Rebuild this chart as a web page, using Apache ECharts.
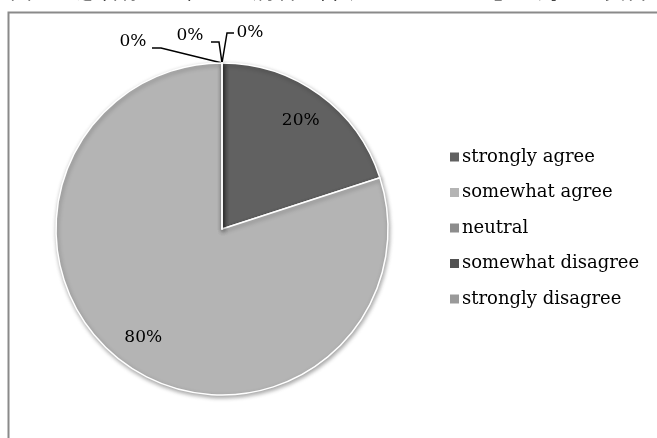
<!DOCTYPE html>
<html>
<head>
<meta charset="utf-8">
<style>
  html, body { margin: 0; padding: 0; background: #fff; }
  #chart { width: 657px; height: 438px; }
</style>
<script src="https://cdn.jsdelivr.net/npm/echarts@6/dist/echarts.min.js"></script>
</head>
<body>
<div id="chart"></div>
<script>
// Survey answers and their shares
const categories = ['strongly agree', 'somewhat agree', 'neutral', 'somewhat disagree', 'strongly disagree'];
const values = [20, 80, 0, 0, 0];
const sliceColors = ['#616161', '#b4b4b4', '#8d8d8d', '#525252', '#9a9a9a'];
const titleText = '図５　患者様に正直に「病名を告げることを望む」に対する賛否';

const serifFont = '"DejaVu Serif", "Liberation Serif", serif';
const pieCenter = [222, 229];
const pieRadius = 166;

// where each zero-share label sits relative to the top of the pie: [label dx, dy, elbow dx, dy, end dx, dy]
const zeroLabelOffsets = {
  2: [-89, -21, -61, -15, -70, -15],
  3: [-32, -27, -3, -21, -11, -21],
  4: [28, -30, 5, -30, 12, -30]
};

const chart = echarts.init(document.getElementById('chart'), null, { renderer: 'canvas' });

const mainData = categories.map((name, i) => {
  const item = { name: name, value: values[i], itemStyle: { color: sliceColors[i] } };
  if (values[i] !== 0) {
    item.label = { show: false };
    item.labelLine = { show: false };
  }
  return item;
});

const labelData = categories.map((name, i) => ({
  name: name,
  value: values[i],
  label: { show: values[i] !== 0 }
}));

chart.setOption({
  animation: false,
  backgroundColor: '#ffffff',
  graphic: [
    {
      type: 'text',
      left: 10,
      top: -21,
      style: {
        text: titleText,
        font: '22px "Noto Sans CJK JP", sans-serif',
        fill: '#000'
      },
      silent: true
    },
    {
      type: 'rect',
      shape: { x: 8.5, y: 12.5, width: 720, height: 520 },
      style: { fill: 'none', stroke: '#8a8a8a', lineWidth: 2 },
      silent: true
    }
  ],
  legend: {
    orient: 'vertical',
    left: 448,
    top: 148,
    padding: 0,
    itemWidth: 11,
    itemHeight: 11,
    itemGap: 17.5,
    icon: 'rect',
    selectedMode: false,
    textStyle: {
      fontFamily: serifFont,
      fontSize: 18,
      lineHeight: 18,
      color: '#000',
      padding: [0, 0, 0, -3]
    },
    data: categories.map((n, i) => ({ name: n, itemStyle: { color: sliceColors[i] } }))
  },
  series: [
    {
      type: 'pie',
      center: pieCenter,
      radius: pieRadius,
      startAngle: 90,
      clockwise: true,
      avoidLabelOverlap: false,
      minShowLabelAngle: 0,
      emphasis: { disabled: true },
      itemStyle: {
        borderColor: '#ffffff',
        borderWidth: 1.5,
        shadowBlur: 4,
        shadowColor: 'rgba(0,0,0,0.35)',
        shadowOffsetX: 1,
        shadowOffsetY: 2
      },
      label: {
        show: true,
        position: 'outside',
        formatter: '{d}%',
        fontFamily: serifFont,
        fontSize: 17,
        color: '#000'
      },
      labelLine: {
        show: true,
        length: 10,
        length2: 10,
        lineStyle: { color: '#000', width: 1.5 }
      },
      labelLayout: function (params) {
        const off = zeroLabelOffsets[params.dataIndex];
        const pts = params.labelLinePoints;
        if (!off || !pts) return {};
        const a = pts[0];
        return {
          x: a[0] + off[0],
          y: a[1] + off[1],
          align: 'center',
          verticalAlign: 'middle',
          labelLinePoints: [
            [a[0], a[1]],
            [a[0] + off[2], a[1] + off[3]],
            [a[0] + off[4], a[1] + off[5]]
          ]
        };
      },
      data: mainData
    },
    {
      // transparent ring that carries the in-slice percentages
      type: 'pie',
      center: pieCenter,
      radius: [96, pieRadius],
      startAngle: 90,
      clockwise: true,
      silent: true,
      legendHoverLink: false,
      itemStyle: { color: 'rgba(0,0,0,0)' },
      label: {
        position: 'inside',
        formatter: '{d}%',
        fontFamily: serifFont,
        fontSize: 17,
        color: '#000'
      },
      labelLine: { show: false },
      data: labelData
    }
  ]
});
</script>
</body>
</html>
